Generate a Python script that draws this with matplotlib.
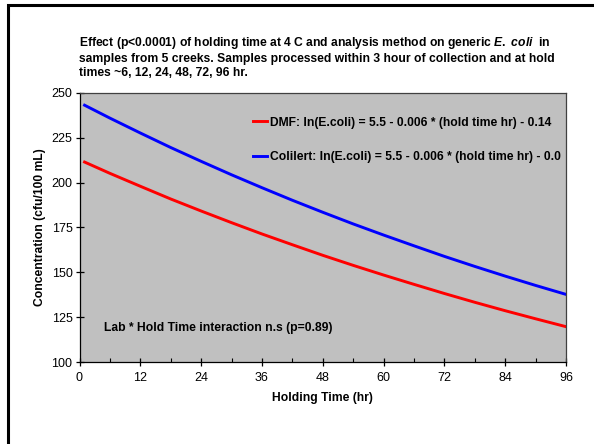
import matplotlib.pyplot as plt
from matplotlib.patches import Rectangle
from matplotlib.ticker import MultipleLocator

plt.rcParams['font.family'] = ['Liberation Sans', 'DejaVu Sans']
plt.rcParams['mathtext.fontset'] = 'custom'
plt.rcParams['mathtext.it'] = 'Liberation Sans:italic:bold'
plt.rcParams['mathtext.rm'] = 'Liberation Sans:bold'

# values
hold_time = [1, 6, 12, 18, 24, 30, 36, 42, 48, 54, 60, 66, 72, 78, 84, 90, 96]
dmf = [211.5, 205.2, 198.0, 190.9, 184.2, 177.7, 171.4, 165.4, 159.5,
       153.9, 148.5, 143.3, 138.2, 133.3, 128.6, 124.1, 119.7]
colilert = [243.2, 236.0, 227.7, 219.6, 211.9, 204.4, 197.2, 190.2, 183.5,
            177.0, 170.8, 164.8, 158.9, 153.3, 147.9, 142.7, 137.7]
x_ticks = [0, 12, 24, 36, 48, 60, 72, 84, 96]
y_ticks = [100, 125, 150, 175, 200, 225, 250]

W, H = 594, 444
fig = plt.figure(figsize=(W / 100, H / 100), dpi=100)
fig.patch.set_facecolor('white')

# outer chart frame (cut at right and bottom in the original)
fig.patches.append(Rectangle((8 / W, -0.05), 1.1, (H - 5) / H + 0.05,
                             transform=fig.transFigure, fill=False,
                             edgecolor='black', linewidth=2.2))

left, right, top, bottom = 79.5, 566, 93, 362
ax = fig.add_axes([left / W, 1 - bottom / H, (right - left) / W, (bottom - top) / H])
ax.set_facecolor('#C0C0C0')

ax.plot(hold_time, dmf, color='#FF0000', lw=2.1,
        label='DMF: ln(E.coli) = 5.5 - 0.006 * (hold time hr) - 0.14')
ax.plot(hold_time, colilert, color='#0000FF', lw=2.1,
        label='Colilert: ln(E.coli) = 5.5 - 0.006 * (hold time hr) - 0.0')

ax.set_xlim(0, 96)
ax.set_ylim(100, 250)
ax.set_xticks(x_ticks)
ax.set_yticks(y_ticks)
ax.xaxis.set_minor_locator(MultipleLocator(6))
ax.tick_params(axis='both', which='major', direction='inout', length=6,
               width=0.9, labelsize=9, color='black')
ax.tick_params(axis='x', which='minor', direction='in', length=3, width=0.8)
ax.tick_params(axis='x', pad=4)
ax.tick_params(axis='y', pad=2)
for s in ax.spines.values():
    s.set_linewidth(0.9)
ax.spines['right'].set_color('#404040')
ax.spines['top'].set_color('#404040')

ax.set_xlabel('Holding Time (hr)', fontsize=8.7, fontweight='bold', labelpad=6)
ax.set_ylabel('Concentration (cfu/100 mL)', fontsize=8.7, fontweight='bold', labelpad=4)

leg = ax.legend(loc='upper left', bbox_to_anchor=(0.346, 0.93), frameon=False,
                prop={'weight': 'bold', 'size': 8.7}, handlelength=1.2,
                handletextpad=0.2, labelspacing=1.85, borderaxespad=0)

ax.text(0.05, 0.128, 'Lab * Hold Time interaction n.s (p=0.89)', transform=ax.transAxes,
        fontsize=8.7, fontweight='bold', va='center', ha='left')

fig.text(79 / W, 1 - 57 / H,
         'Effect (p<0.0001) of holding time at 4 C and analysis method on generic $\\mathit{E.\\ coli}$  in\n'
         'samples from 5 creeks. Samples processed within 3 hour of collection and at hold\n'
         'times ~6, 12, 24, 48, 72, 96 hr.',
         fontsize=8.7, fontweight='bold', va='center', ha='left', linespacing=1.27)

fig.savefig('out.png', dpi=100)
